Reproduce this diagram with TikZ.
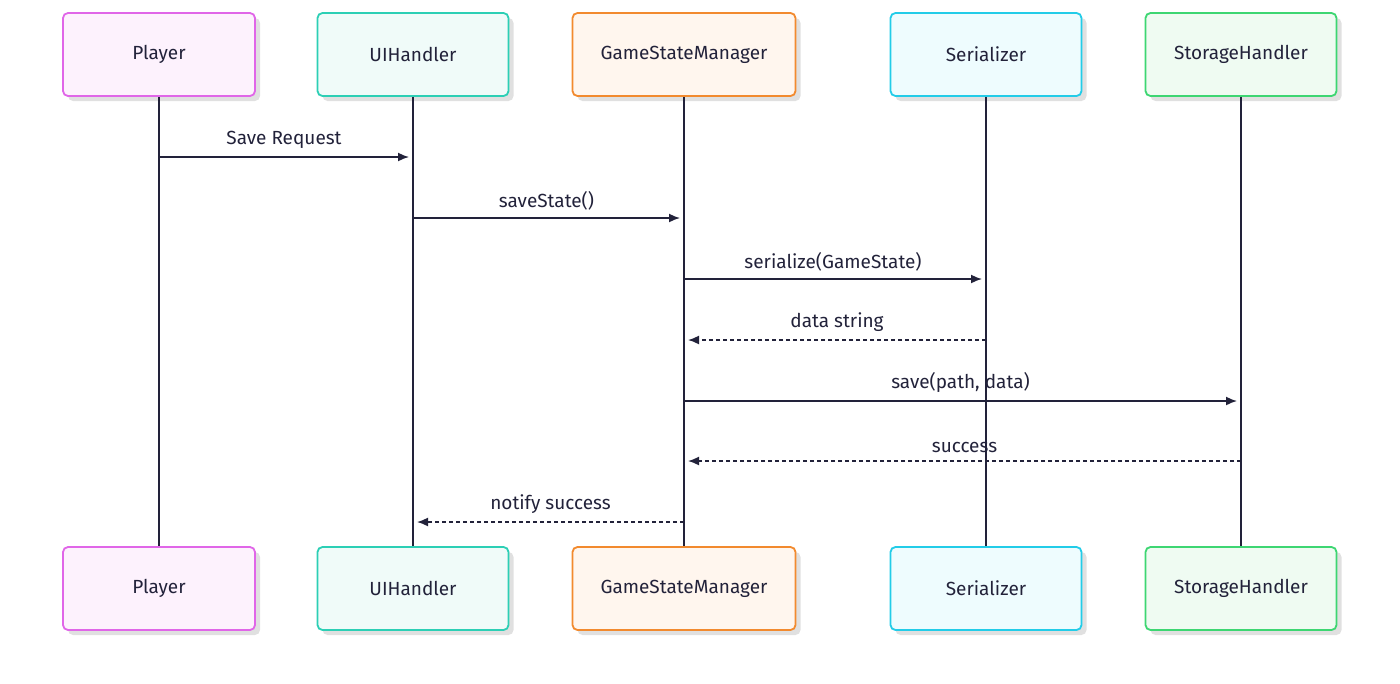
\documentclass[tikz,border=0pt]{standalone}
\usepackage{fontspec}
\setmainfont{Fira Sans}
\usetikzlibrary{arrows.meta}
\definecolor{pb}{HTML}{E066E8}\definecolor{pf}{HTML}{FDF2FD}
\definecolor{ub}{HTML}{2CCFB5}\definecolor{uf}{HTML}{F0FBF9}
\definecolor{gb}{HTML}{F28A2E}\definecolor{gf}{HTML}{FFF6EE}
\definecolor{sb}{HTML}{22CCE8}\definecolor{sf}{HTML}{EEFCFE}
\definecolor{hb}{HTML}{3DD672}\definecolor{hf}{HTML}{EFFBF2}
\definecolor{ln}{HTML}{22223A}
\begin{document}
\begin{tikzpicture}[x=1pt,y=-1pt,
 box/.style={draw=#1b,fill=#1f,line width=1.8pt,rounded corners=5pt,minimum height=83pt,font=\fontsize{19}{22}\selectfont,text=ln},
 life/.style={draw=ln,line width=1.6pt},
 msg/.style={draw=ln,line width=1.6pt,-{Latex[length=11pt,width=9pt]}},
 ret/.style={msg,dash pattern=on 4pt off 3pt},
 lab/.style={font=\fontsize{19}{22}\selectfont,text=ln,above}]
\useasboundingbox (0,0) rectangle (1400,683);
\def\xs{159/p/192/Player/pt/pbt,413/u/191/UIHandler/ut/ubt,684/g/223/GameStateManager/gt/gbt,986/s/191/Serializer/st/sbt,1241/h/191/StorageHandler/ht/hbt}
\foreach \x/\c/\w/\t/\n/\m in \xs{
 \fill[black!12,rounded corners=5pt] (\x-\w/2+5,18) rectangle (\x+\w/2+5,101);
 \fill[black!12,rounded corners=5pt] (\x-\w/2+5,552) rectangle (\x+\w/2+5,635);
}
\foreach \x/\c/\w/\t/\n/\m in \xs{
 \coordinate (\n) at (\x,96); \coordinate (\m) at (\x,547);
 \draw[life] (\n) -- (\m);
 \node[box=\c,minimum width=\w pt] at (\x,54.5) {\t};
 \node[box=\c,minimum width=\w pt] at (\x,588.5) {\t};
}
\coordinate (a1) at (159,157); \coordinate (b1) at (409,157);
\draw[msg] (a1) -- node[lab,yshift=4pt]{Save Request} (b1);
\coordinate (a2) at (413,218); \coordinate (b2) at (680,218);
\draw[msg] (a2) -- node[lab,yshift=4pt]{saveState()} (b2);
\coordinate (a3) at (684,279); \coordinate (b3) at (982,279);
\draw[msg] (a3) -- node[lab,yshift=4pt]{serialize(GameState)} (b3);
\coordinate (a4) at (986,340); \coordinate (b4) at (688,340);
\draw[ret] (a4) -- node[lab,yshift=4pt]{data string} (b4);
\coordinate (a5) at (684,401); \coordinate (b5) at (1237,401);
\draw[msg] (a5) -- node[lab,yshift=4pt]{save(path, data)} (b5);
\coordinate (a6) at (1241,461); \coordinate (b6) at (688,461);
\draw[ret] (a6) -- node[lab,yshift=4pt]{success} (b6);
\coordinate (a7) at (684,522); \coordinate (b7) at (417,522);
\draw[ret] (a7) -- node[lab,yshift=4pt]{notify success} (b7);
\end{tikzpicture}
\end{document}
